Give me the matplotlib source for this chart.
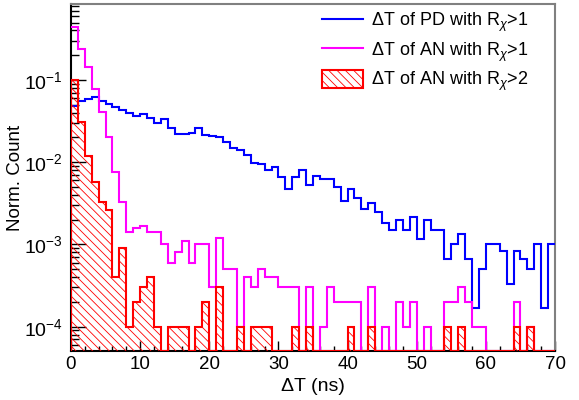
import numpy as np
import matplotlib
matplotlib.use('Agg')
import matplotlib.pyplot as plt
from matplotlib.lines import Line2D
from matplotlib.patches import Patch
from matplotlib.ticker import MultipleLocator, LogLocator, LogFormatterMathtext, NullFormatter

plt.rcParams['font.family'] = ['Liberation Sans', 'DejaVu Sans']
plt.rcParams['mathtext.fontset'] = 'custom'
plt.rcParams['mathtext.rm'] = 'Liberation Sans'
plt.rcParams['mathtext.it'] = 'Liberation Sans:italic'
plt.rcParams['mathtext.bf'] = 'Liberation Sans:bold'
plt.rcParams['hatch.linewidth'] = 0.6

# ---- data: 1 ns bins from 0 to 70 ns ----
bin_edges = list(range(0, 71))

# PD with R_chi > 1 (counts, normalised by pd_norm)
pd_norm = 6000.0
pd_r1_counts = [290, 333, 356, 373, 333, 304, 279, 259, 240, 218,
                229, 209, 178, 200, 155, 131, 131, 135, 155, 128,
                125, 121, 107, 89, 85, 73, 59, 57, 48, 53,
                40, 28, 40, 48, 32, 41, 38, 38, 30, 20,
                28, 22, 16, 19, 15, 11, 9, 12, 9, 13,
                7, 12, 9, 9, 4, 6, 8, 4, 1, 3,
                6, 6, 5, 2, 5, 4, 3, 6, 1, 6]

# AN with R_chi > 1 and R_chi > 2 (counts, normalised by an_norm)
an_norm = 10000.0
an_r1_counts = [4440, 2360, 1450, 778, 405, 201, 75, 33, 14, 16,
                17, 14, 14, 10, 6, 8, 11, 6, 10, 10,
                3, 12, 5, 5, 1, 4, 3, 5, 4, 4,
                3, 3, 3, 0, 3, 0, 1, 3, 2, 2,
                2, 2, 0, 3, 0, 1, 0, 2, 1, 2,
                0, 1, 0, 0, 2, 2, 3, 2, 1, 1,
                0, 0, 0, 0, 2, 0, 1, 0, 0, 0]
an_r2_counts = [1000, 306, 119, 58, 33, 26, 4, 9, 1, 2,
                3, 4, 1, 0, 1, 1, 1, 0, 1, 2,
                0, 3, 0, 0, 1, 0, 1, 1, 1, 0,
                0, 0, 1, 0, 1, 0, 0, 0, 0, 0,
                1, 0, 0, 1, 0, 0, 0, 0, 0, 0,
                0, 0, 0, 0, 1, 0, 1, 0, 0, 0,
                0, 0, 0, 0, 1, 0, 1, 0, 0, 0]

labels = ['ΔT of PD with R$_{\\chi}$>1',
          'ΔT of AN with R$_{\\chi}$>1',
          'ΔT of AN with R$_{\\chi}$>2']

ymin, ymax = 5.06e-5, 0.84
xmin, xmax = 0, 70

edges = np.array(bin_edges, dtype=float)


def norm_vals(counts, norm):
    v = np.asarray(counts, dtype=float) / norm
    return np.where(v > 0, v, ymin)  # empty bins drawn down to frame bottom (ROOT style)


pd_vals = norm_vals(pd_r1_counts, pd_norm)
an1_vals = norm_vals(an_r1_counts, an_norm)
an2_vals = norm_vals(an_r2_counts, an_norm)

BLUE = '#0000ff'
MAG = '#ff00ff'
RED = '#ff0000'
HATCH = '\\\\\\\\'

fig = plt.figure(figsize=(5.79, 4.0), dpi=100)
ax = fig.add_axes([71 / 579, 49 / 400, 484 / 579, 347 / 400])
ax.set_yscale('log')

ax.stairs(pd_vals, edges, baseline=None, color=BLUE, lw=1.5, zorder=3)
ax.stairs(an1_vals, edges, baseline=None, color=MAG, lw=1.5, zorder=3)
ax.stairs(an2_vals, edges, baseline=ymin, fill=True, facecolor='none',
          edgecolor=RED, hatch=HATCH, lw=1.5, zorder=4)

ax.set_xlim(xmin, xmax)
ax.set_ylim(ymin, ymax)

ax.xaxis.set_major_locator(MultipleLocator(10))
ax.xaxis.set_minor_locator(MultipleLocator(2))
ax.yaxis.set_major_locator(LogLocator(base=10, numticks=10))
ax.yaxis.set_major_formatter(LogFormatterMathtext())
ax.yaxis.set_minor_locator(LogLocator(base=10, subs=np.arange(2, 10), numticks=20))
ax.yaxis.set_minor_formatter(NullFormatter())

ax.tick_params(which='both', direction='in', top=False, right=False, colors='black')
ax.tick_params(axis='y', which='major', length=10.8, width=1.0, labelsize=14, pad=6)
ax.tick_params(axis='y', which='minor', length=5.4, width=1.0)
ax.tick_params(axis='x', which='major', length=7.2, width=1.0, labelsize=13.5, pad=3.5)
ax.tick_params(axis='x', which='minor', length=3.6, width=1.0)

for s in ['left', 'bottom']:
    ax.spines[s].set_color('black')
    ax.spines[s].set_linewidth(1.5)
for s in ['top', 'right']:
    ax.spines[s].set_color('#808080')
    ax.spines[s].set_linewidth(1.5)

ax.set_xlabel('ΔT (ns)', fontsize=14, va='center')
ax.xaxis.set_label_coords(0.5, -0.101)
ax.set_ylabel('Norm. Count', fontsize=13.5, va='center')
ax.yaxis.set_label_coords(-0.115, 0.5)

handles = [Line2D([], [], color=BLUE, lw=1.5),
           Line2D([], [], color=MAG, lw=1.5),
           Patch(facecolor='none', edgecolor=RED, hatch=HATCH, lw=1.5)]
leg = ax.legend(handles, labels, loc='upper left',
                bbox_to_anchor=(322 / 579, 1 - 11 / 400), bbox_transform=fig.transFigure,
                frameon=False, fontsize=13, handlelength=2.27, handletextpad=0.44,
                handleheight=1.1, labelspacing=0.35, borderpad=0, borderaxespad=0)

fig.savefig('out.png', dpi=100)
